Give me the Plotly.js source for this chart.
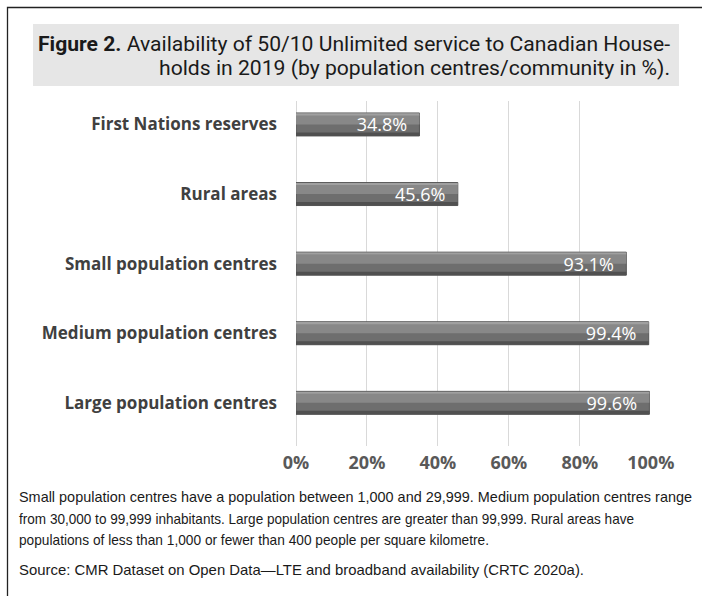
<!DOCTYPE html>
<html>
<head>
<meta charset="utf-8">
<script src="https://cdn.plot.ly/plotly-3.0.1.min.js"></script>
<style>
  html, body { margin: 0; padding: 0; background: #ffffff; }
  #chart { width: 702px; height: 596px; }
</style>
</head>
<body>
<div id="chart"></div>
<script>
// Data (bottom to top)
const categories = ["Large population centres", "Medium population centres", "Small population centres", "Rural areas", "First Nations reserves"];
const availability = [99.6, 99.4, 93.1, 45.6, 34.8];
const xTickValues = [0, 20, 40, 60, 80, 100];
const xTickLabels = ["0%", "20%", "40%", "60%", "80%", "100%"];
const titleLines = ["<b>Figure 2.</b> Availability of 50/10 Unlimited service to Canadian House-",
                    "holds in 2019 (by population centres/community in %)."];
const footnoteLines = ["Small population centres have a population between 1,000 and 29,999. Medium population centres range",
                       "from 30,000 to 99,999 inhabitants. Large population centres are greater than 99,999. Rural areas have",
                       "populations of less than 1,000 or fewer than 400 people per square kilometre."];
const sourceLine = "Source: CMR Dataset on Open Data\u2014LTE and broadband availability (CRTC 2020a).";

// plot area in pixels
const L = 296, R = 651, T = 101, B = 446;
const px = x => (x - L) / (R - L);
const py = y => (B - y) / (B - T);

const W = 0.33;
const base = {
  type: "bar", orientation: "h", x: availability, y: categories,
  width: W, offset: -W / 2, hoverinfo: "skip",
  marker: { color: "#6e6e6e", line: { color: "#575757", width: 1 } }
};
const upper = Object.assign({}, base, { offset: 0, width: W / 2 - 0.03,
  marker: { color: "#888888", line: { width: 0 } } });
const topEdge = Object.assign({}, base, { offset: W / 2 - 0.035, width: 0.03,
  marker: { color: "#a0a0a0", line: { width: 0 } } });
const bottomEdge = Object.assign({}, base, { offset: -W / 2, width: 0.05,
  marker: { color: "#505050", line: { width: 0 } } });
const labels = Object.assign({}, base, {
  marker: { color: "rgba(0,0,0,0)", line: { width: 0 } },
  text: availability,
  texttemplate: "%{x:.1f}%\u00a0\u00a0",
  textposition: "inside", insidetextanchor: "end", constraintext: "none",
  textfont: { family: "Open Sans", size: 18, color: "#ffffff" }
});

// text targets: left px, centre y px, target width px
const titleFont = { family: "Roboto", size: 20.5, color: "#1a1a1a" };
const noteFont = { family: "Liberation Sans", size: 14.6, color: "#1a1a1a" };
const textSpecs = [
  { text: titleLines[0], x: 36, y: 44, w: 632, font: titleFont },
  { text: titleLines[1], x: 157, y: 68, w: 511, font: titleFont },
  { text: footnoteLines[0], x: 17, y: 497, w: 673, font: noteFont },
  { text: footnoteLines[1], x: 17, y: 519, w: 615, font: noteFont },
  { text: footnoteLines[2], x: 17, y: 540, w: 470, font: noteFont },
  { text: sourceLine, x: 17, y: 570, w: 565, font: noteFont }
];

const layout = {
  width: 702, height: 596,
  margin: { l: L, r: 702 - R, t: T, b: 596 - B, pad: 0 },
  paper_bgcolor: "#ffffff", plot_bgcolor: "#ffffff",
  barmode: "overlay", showlegend: false,
  xaxis: {
    range: [0, 100.05], tickvals: xTickValues, ticktext: xTickLabels,
    showgrid: true, gridcolor: "#d9d9d9", gridwidth: 1,
    zeroline: true, zerolinecolor: "#d9d9d9", zerolinewidth: 1,
    showline: false, ticks: "", ticklabelstandoff: 4,
    tickfont: { family: "Open Sans", size: 18, color: "#595959", weight: "bold" },
    fixedrange: true
  },
  yaxis: {
    type: "category", range: [-0.62, 4.337],
    showgrid: false, zeroline: false, showline: false, ticks: "",
    ticklabelstandoff: 18,
    tickfont: { family: "Open Sans", size: 17, color: "#404040", weight: "bold" },
    fixedrange: true
  },
  shapes: [
    { type: "path", xref: "paper", yref: "paper",
      path: `M ${px(7.5)} ${py(610)} L ${px(7.5)} ${py(7.5)} L ${px(710)} ${py(7.5)}`,
      line: { color: "#222222", width: 1.3 } },
    { type: "rect", xref: "paper", yref: "paper", layer: "below",
      x0: px(33), x1: px(679), y0: py(86), y1: py(24),
      fillcolor: "#e6e6e6", line: { width: 0 } }
  ],
  annotations: textSpecs.map(s => ({
    xref: "paper", yref: "paper", x: px(s.x), y: py(s.y),
    xanchor: "left", yanchor: "middle", align: "left",
    text: s.text, showarrow: false, font: s.font
  }))
};

Plotly.newPlot("chart", [base, upper, topEdge, bottomEdge, labels], layout,
  { displayModeBar: false, staticPlot: true }).then(gd => {
  const els = gd.querySelectorAll(".annotation-text");
  els.forEach((el, i) => {
    const s = textSpecs[i];
    if (!s) return;
    el.setAttribute("textLength", s.w);
    el.setAttribute("lengthAdjust", "spacingAndGlyphs");
  });
});
</script>
</body>
</html>
